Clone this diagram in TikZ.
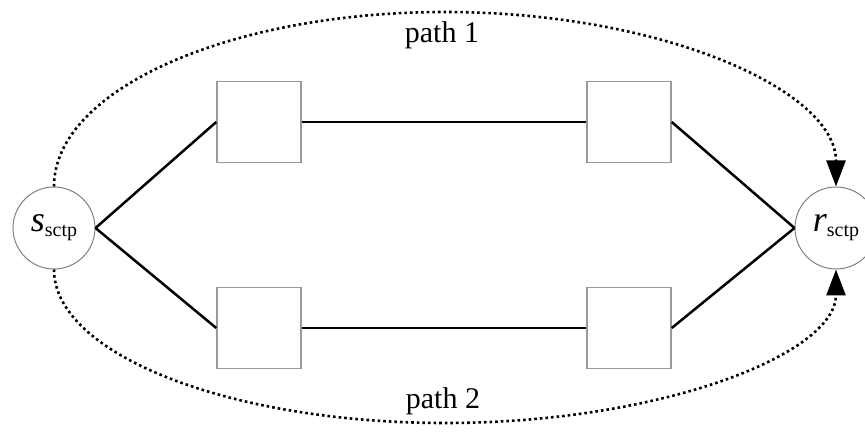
\documentclass[tikz,border=0pt]{standalone}
\usepackage{fontspec}
\setmainfont{Liberation Serif}
\usetikzlibrary{arrows.meta}

\tikzset{
  eind/.style={draw=gray, line width=1pt, circle, minimum size=82pt, inner sep=0pt},
  doos/.style={draw=gray!80, line width=1.5pt, minimum width=84pt, minimum height=81pt, inner sep=0pt},
  link/.style={line width=2.5pt},
  pad/.style={line width=2.6pt, dash pattern=on 2.6pt off 3pt, -{Triangle[length=26pt,width=19pt]}}
}

\begin{document}
\begin{tikzpicture}[x=1pt, y=-1pt, every node/.style={font=\fontsize{30}{36}\selectfont}]
  \useasboundingbox (0,0) rectangle (865,435);
  \def\sub#1{\raisebox{-0.3ex}{\fontsize{20}{24}\selectfont #1}} % subscript

  % eindpunten
  \node[eind] (s) at (54,228) {\fontsize{36}{40}\selectfont\textit{s}\sub{sctp}};
  \node[eind] (r) at (836,228) {\fontsize{36}{40}\selectfont\textit{r}\sub{sctp}};

  % tussenliggende dozen
  \node[doos] (a1) at (259,122) {};
  \node[doos] (a2) at (629,122) {};
  \node[doos] (b1) at (259,328) {};
  \node[doos] (b2) at (629,328) {};

  % verbindingen
  \draw[link] (s.east) -- (a1.west);
  \draw[link] (a1.east) -- (a2.west);
  \draw[link] (a2.east) -- (r.west);
  \draw[link] (s.east) -- (b1.west);
  \draw[link] (b1.east) -- (b2.west);
  \draw[link] (b2.east) -- (r.west);

  % gestippelde paden
  \coordinate (p1) at (445,12);
  \coordinate (p2) at (445,423);
  \draw[pad] (s.north) .. controls (54,90) and (229,12) .. (p1)
                       .. controls (661,12) and (836,90) .. (r.north);
  \draw[pad] (s.south) .. controls (54,354) and (229,423) .. (p2)
                       .. controls (661,423) and (836,354) .. (r.south);

  \node (l1) at (442,35) {path 1};
  \node (l2) at (443,401) {path 2};
\end{tikzpicture}
\end{document}
